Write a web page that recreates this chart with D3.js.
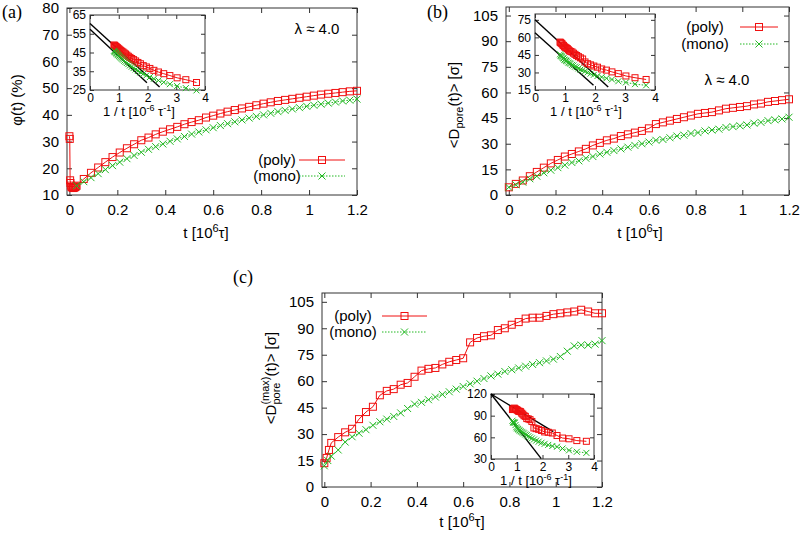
<!DOCTYPE html>
<html><head><meta charset="utf-8">
<script src="https://cdn.jsdelivr.net/npm/d3@7"></script>
<style>body{margin:0;background:#fff} svg{display:block}</style>
</head><body>
<svg id="chart" width="800" height="536"></svg>
<script>
// ---------------- DATA ----------------
const tGrid = [0.03,0.06,0.09,0.12,0.15,0.18,0.21,0.24,0.27,0.30,0.33,0.36,0.39,0.42,0.45,0.48,0.51,0.54,0.57,0.60,
               0.63,0.66,0.69,0.72,0.75,0.78,0.81,0.84,0.87,0.90,0.93,0.96,0.99,1.02,1.05,1.08,1.11,1.14,1.17,1.20];
// panel (a): phi(t) %
const tA_polyEarly = [0,0.0015,0.003,0.0045,0.006,0.009,0.012,0.015,0.018,0.021,0.024,0.027];
const phiA_polyEarly = [32,31,15.5,14.5,13.5,13,12.8,12.6,12.7,12.8,13,13.2];
const phiA_poly = [13.5,16,18.3,20.3,22.3,24.2,25.9,27.5,29,30.5,31.5,32.7,33.7,34.6,35.5,36.5,37.3,38,39,39.7,
                   40.5,41.2,41.8,42.4,43,43.6,44.2,44.7,45.2,45.6,46,46.4,46.8,47.2,47.6,47.9,48.2,48.5,48.8,49];
const phiA_mono = [13.5,15,16.5,18,19.5,21,22.3,23.6,24.8,26,27.1,28.1,29.1,30.1,31,31.9,32.8,33.6,34.4,35.2,
                   36,36.7,37.4,38.1,38.8,39.4,40,40.6,41.2,41.7,42.2,42.7,43.2,43.6,44,44.4,44.8,45.2,45.5,45.9];
// panel (b): <D_pore(t)>
const tB_early = [0];
const dB_polyEarly = [4.5];
const dB_monoEarly = [4.5];
const dB_poly = [6.5,8.5,11,13.5,16,18.5,20.5,22.5,24,25.5,27,29,30.5,32,33,34.5,35.5,36.5,37.5,39,
                 41.5,42.5,43.5,44.5,45.5,46.5,47.5,48,48.5,49.5,50.5,51,51.5,52,53,53.5,54.5,55,55.5,56];
const dB_mono = [6,7.5,9.5,11,13,14.5,16,17.5,19,20,21.5,22.5,24,25,26,27,28,29,30,31,
                 32,32.5,33.5,34.5,35,36,36.5,37.5,38,38.5,39.5,40,40.5,41,42,42.5,43.5,44,44.5,45.5];
// panel (c): <D_pore^(max)(t)>
const tC_polyEarly = [0,0.01,0.02];
const dC_polyEarly = [13.5,16.5,21];
const tC_monoEarly = [0,0.015];
const dC_monoEarly = [12,15];
const dC_poly = [25,28.3,31,33,38.5,42.5,45.5,52,54.5,55.5,58,59,62.5,66,67,67.5,69.5,71,72,73,
                 82,84.5,85.5,86,89,90,92,93.5,95.5,96,96,97,98,98.5,99,99.5,100.5,99.5,98.5,98.5];
const dC_mono = [17.5,21,25.5,28.5,30.5,32.5,35,37,38.5,40,42,44.5,47,48,49.5,51,52.5,54,55.5,57,
                 58.5,60,61.5,63,64,65.5,66.5,67.5,68.5,69.5,70.5,71.5,72.5,74,77,80,80.5,80.5,81,83];
// inset fit lines (1/t axis): [x0,x1] and [y0,y1]
const fitA_x = [[0,2.42],[0,1.98]], fitA_y = [[60.5,26.6],[57.4,28.9]];
const fitB_x = [[0,2.44],[0,1.95]], fitB_y = [[75,17.5],[64,19]];
const fitC_x = [[0,2.42],[0,1.95]], fitC_y = [[120,68],[120,30.5]];
// tick values
const xTicksMain = [0,0.2,0.4,0.6,0.8,1,1.2];
const yTicksA = [10,20,30,40,50,60,70,80];
const yTicksBC = [0,15,30,45,60,75,90,105];
const xTicksInset = [0,1,2,3,4];
const yTicksInsetA = [25,35,45,55,65];
const yTicksInsetB = [15,30,45,60,75];
const yTicksInsetC = [30,60,90,120];
const seriesNames = ["(poly)","(mono)"];
const lambdaText = "λ ≈ 4.0";

// ---------------- DRAWING ----------------
const svg = d3.select("#chart");
const RED = "#f01010", GREEN = "#22b822", BORDER = "#333";
const FONT = "'Liberation Sans', Arial, Helvetica, sans-serif";
const SERIF = "'Liberation Serif', 'Times New Roman', serif";

function zip(t, v){ return t.map((d,i)=>({t:d, v:v[i]})); }
const polyA = zip(tA_polyEarly.concat(tGrid), phiA_polyEarly.concat(phiA_poly));
const monoA = zip(tGrid, phiA_mono);
const polyB = zip(tB_early.concat(tGrid), dB_polyEarly.concat(dB_poly));
const monoB = zip(tB_early.concat(tGrid), dB_monoEarly.concat(dB_mono));
const polyC = zip(tC_polyEarly.concat(tGrid), dC_polyEarly.concat(dC_poly));
const monoC = zip(tC_monoEarly.concat(tGrid), dC_monoEarly.concat(dC_mono));
// inset: same data against 1/t (t >= 0.27)
const inv = arr => arr.filter(d=>d.t>=0.265).map(d=>({t:1/d.t, v:d.v}));

function square(g, x, y, s, color){
  g.append("rect").attr("x",x-s/2).attr("y",y-s/2).attr("width",s).attr("height",s)
    .attr("fill","none").attr("stroke",color).attr("stroke-width",1);
}
function cross(g, x, y, s, color){
  const h=s/2;
  g.append("path").attr("d",`M${x-h},${y-h}L${x+h},${y+h}M${x-h},${y+h}L${x+h},${y-h}`)
    .attr("stroke",color).attr("stroke-width",1).attr("fill","none");
}

function frame(g, x, y, xt, yt, opt){
  const [x0,x1]=x.range(), [y0,y1]=y.range();
  if(opt.fill) g.append("rect").attr("x",x0).attr("y",y1).attr("width",x1-x0).attr("height",y0-y1).attr("fill","#fff");
  const tl = opt.tick;
  const ax = d3.axisBottom(x).tickValues(xt).tickSize(-tl).tickPadding(opt.xpad).tickFormat(d=>d);
  const gb = g.append("g").attr("transform",`translate(0,${y0})`).call(ax);
  const gt = g.append("g").attr("transform",`translate(0,${y1})`).call(d3.axisTop(x).tickValues(xt).tickSize(-tl).tickFormat(""));
  const gl = g.append("g").attr("transform",`translate(${x0},0)`).call(d3.axisLeft(y).tickValues(yt).tickSize(-tl).tickPadding(opt.ypad).tickFormat(d=>d));
  const gr = g.append("g").attr("transform",`translate(${x1},0)`).call(d3.axisRight(y).tickValues(yt).tickSize(-tl).tickFormat(""));
  [gb,gt,gl,gr].forEach(a=>{ a.select(".domain").remove(); a.selectAll("line").attr("stroke",BORDER);
     a.selectAll("text").attr("font-family",FONT).attr("font-size",opt.fs).attr("fill","#000"); });
  g.append("rect").attr("x",x0).attr("y",y1).attr("width",x1-x0).attr("height",y0-y1)
    .attr("fill","none").attr("stroke",BORDER).attr("stroke-width",1);
}

function series(g, x, y, data, kind, s){
  const line = d3.line().x(d=>x(d.t)).y(d=>y(d.v));
  g.append("path").attr("d",line(data)).attr("fill","none")
    .attr("stroke", kind==="poly"?RED:GREEN).attr("stroke-width",1)
    .attr("stroke-dasharray", kind==="poly"?null:"1.5,1.5");
  data.forEach(d=>{
    if(kind==="poly") square(g, x(d.t), y(d.v), s, RED); else cross(g, x(d.t), y(d.v), s, GREEN);
  });
}

function legend(g, cx, y1, y2, l0, l1){
  [[seriesNames[0],y1,"poly"],[seriesNames[1],y2,"mono"]].forEach(([name,yy,k])=>{
    g.append("text").attr("x",cx).attr("y",yy+5).attr("text-anchor","middle")
      .attr("font-family",FONT).attr("font-size",15).text(name);
    g.append("line").attr("x1",l0).attr("x2",l1).attr("y1",yy).attr("y2",yy)
      .attr("stroke",k==="poly"?RED:GREEN).attr("stroke-width",1).attr("stroke-dasharray",k==="poly"?null:"1.5,1.5");
    if(k==="poly") square(g,(l0+l1)/2,yy,7,RED); else cross(g,(l0+l1)/2,yy,7,GREEN);
  });
}

function xLabel(g, cx, y){
  const t = g.append("text").attr("x",cx).attr("y",y).attr("text-anchor","middle")
    .attr("font-family",FONT).attr("font-size",15);
  t.append("tspan").text("t [10");
  t.append("tspan").attr("dy",-6).attr("font-size",11).text("6");
  t.append("tspan").attr("dy",6).text("τ]");
}
function insetXLabel(g, cx, y){
  const t = g.append("text").attr("x",cx).attr("y",y).attr("text-anchor","middle")
    .attr("font-family",FONT).attr("font-size",13);
  t.append("tspan").text("1 / t [10");
  t.append("tspan").attr("dy",-5).attr("font-size",9).text("-6");
  t.append("tspan").attr("dy",5).text(" τ");
  t.append("tspan").attr("dy",-5).attr("font-size",9).text("-1");
  t.append("tspan").attr("dy",5).text("]");
}
function fitLines(g, x, y, fx, fy){
  fx.forEach((xs,i)=>{
    g.append("line").attr("x1",x(xs[0])).attr("x2",x(xs[1])).attr("y1",y(fy[i][0])).attr("y2",y(fy[i][1]))
      .attr("stroke","#000").attr("stroke-width",1.4);
  });
}
function panelLabel(txt, x, y){
  svg.append("text").attr("x",x).attr("y",y).attr("font-family",SERIF).attr("font-size",18).text(txt);
}

// ===== Panel (a) =====
{
  const g = svg.append("g");
  const x = d3.scaleLinear().domain([-0.01,1.2]).range([67,357]);
  const y = d3.scaleLinear().domain([10,80]).range([195,8]);
  frame(g,x,y,xTicksMain,yTicksA,{tick:5,xpad:9,ypad:8,fs:15});
  series(g,x,y,polyA,"poly",7);
  series(g,x,y,monoA,"mono",7);
  legend(g,277,160,176,299,345);
  g.append("text").attr("x",317).attr("y",34).attr("text-anchor","middle").attr("font-family",FONT).attr("font-size",15).text(lambdaText);
  xLabel(g,206,238);
  g.append("text").attr("transform","translate(22,100) rotate(-90)").attr("text-anchor","middle")
    .attr("font-family",FONT).attr("font-size",15).text("φ(t) (%)");
  const ix = d3.scaleLinear().domain([0,4]).range([90,205]);
  const iy = d3.scaleLinear().domain([25,65]).range([90,15]);
  frame(g,ix,iy,xTicksInset,yTicksInsetA,{tick:4,xpad:3,ypad:4,fs:12,fill:true});
  fitLines(g,ix,iy,fitA_x,fitA_y);
  series(g,ix,iy,inv(polyA),"poly",6);
  series(g,ix,iy,inv(monoA),"mono",6);
  insetXLabel(g,139,116);
  panelLabel("(a)",2,18);
}
// ===== Panel (b) =====
{
  const g = svg.append("g");
  const x = d3.scaleLinear().domain([-0.012,1.2]).range([506,789]);
  const y = d3.scaleLinear().domain([0,110]).range([195,7]);
  frame(g,x,y,xTicksMain,yTicksBC,{tick:5,xpad:9,ypad:8,fs:15});
  series(g,x,y,polyB,"poly",7);
  series(g,x,y,monoB,"mono",7);
  legend(g,705,27,44,740,778);
  g.append("text").attr("x",727).attr("y",85).attr("text-anchor","middle").attr("font-family",FONT).attr("font-size",15).text(lambdaText);
  xLabel(g,640,238);
  const t = g.append("text").attr("transform","translate(459,105) rotate(-90)").attr("text-anchor","middle")
    .attr("font-family",FONT).attr("font-size",15);
  t.append("tspan").text("<D");
  t.append("tspan").attr("dy",4).attr("font-size",11).text("pore");
  t.append("tspan").attr("dy",-4).text("(t)> [σ]");
  const ix = d3.scaleLinear().domain([0,4]).range([535,655]);
  const iy = d3.scaleLinear().domain([15,80]).range([90,14]);
  frame(g,ix,iy,xTicksInset,yTicksInsetB,{tick:4,xpad:3,ypad:4,fs:12,fill:true});
  fitLines(g,ix,iy,fitB_x,fitB_y);
  series(g,ix,iy,inv(polyB),"poly",6);
  series(g,ix,iy,inv(monoB),"mono",6);
  insetXLabel(g,586,116);
  panelLabel("(b)",427,18);
}
// ===== Panel (c) =====
{
  const g = svg.append("g");
  const x = d3.scaleLinear().domain([-0.01,1.2]).range([322,602]);
  const y = d3.scaleLinear().domain([0,110]).range([487,293]);
  frame(g,x,y,xTicksMain,yTicksBC,{tick:5,xpad:9,ypad:8,fs:15});
  series(g,x,y,polyC,"poly",7);
  series(g,x,y,monoC,"mono",7);
  legend(g,353,316,332,382,427);
  xLabel(g,462,527);
  const lg = g.append("g").attr("transform","translate(276,378) rotate(-90)");
  const p1 = lg.append("text").attr("font-family",FONT).attr("font-size",15).attr("y",0).text("<D");
  const p2a = lg.append("text").attr("font-family",FONT).attr("font-size",11).attr("y",-7).text("(max)");
  const p2b = lg.append("text").attr("font-family",FONT).attr("font-size",11).attr("y",4).text("pore");
  const p3 = lg.append("text").attr("font-family",FONT).attr("font-size",15).attr("y",0).text("(t)> [σ]");
  const w1 = p1.node().getComputedTextLength();
  const w2 = Math.max(p2a.node().getComputedTextLength(), p2b.node().getComputedTextLength());
  const w3 = p3.node().getComputedTextLength();
  const x0 = -(w1+w2+w3)/2;
  p1.attr("x",x0); p2a.attr("x",x0+w1); p2b.attr("x",x0+w1); p3.attr("x",x0+w1+w2);
  const ix = d3.scaleLinear().domain([0,4]).range([491,594]);
  const iy = d3.scaleLinear().domain([30,120]).range([459,394]);
  frame(g,ix,iy,xTicksInset,yTicksInsetC,{tick:4,xpad:3,ypad:4,fs:12,fill:true});
  fitLines(g,ix,iy,fitC_x,fitC_y);
  series(g,ix,iy,inv(polyC),"poly",6);
  series(g,ix,iy,inv(monoC),"mono",6);
  insetXLabel(g,536,485);
  panelLabel("(c)",233,283);
}
</script>
</body></html>
